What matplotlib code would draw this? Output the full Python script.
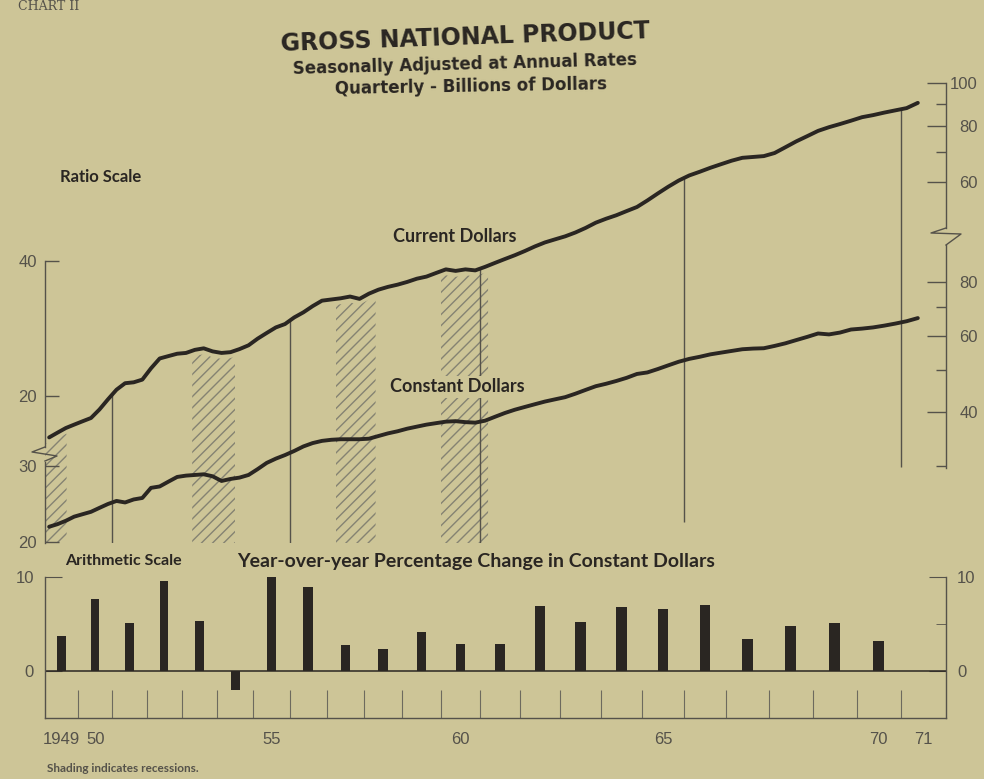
import numpy as np
import matplotlib.pyplot as plt
from matplotlib.lines import Line2D

W, H = 984, 779
BG = "#cdc597"
INK = "#2a2622"
GREY = "#55524a"
HATCH = "#858372"

plt.rcParams["hatch.linewidth"] = 1.0
DIGITS = ["Liberation Sans", "DejaVu Sans"]
LABEL = ["Lato", "DejaVu Sans"]

# GNP, billions of dollars, quarterly 1949 Q1 - 1971 Q2 (ratio scale)
current = [16.2, 16.6, 17.0, 17.3, 17.6, 17.9, 18.7, 19.7, 20.7, 21.4, 21.5, 21.8,
           23.1, 24.3, 24.6, 24.9, 25.0, 25.4, 25.6, 25.2, 25.0, 25.1, 25.5, 26.0,
           26.9, 27.7, 28.5, 29.0, 30.0, 30.8, 31.8, 32.7, 32.9, 33.1, 33.4, 33.0,
           33.9, 34.6, 35.1, 35.5, 36.0, 36.6, 37.0, 37.7, 38.4, 38.1, 38.4, 38.2,
           38.9, 39.7, 40.5, 41.3, 42.2, 43.2, 44.1, 44.8, 45.5, 46.4, 47.5, 48.8,
           49.8, 50.7, 51.8, 52.9, 54.7, 56.7, 58.7, 60.6, 62.2, 63.4, 64.7, 65.9,
           67.1, 68.1, 68.4, 68.7, 69.8, 71.9, 74.1, 76.1, 78.2, 79.7, 81.0, 82.4,
           83.9, 84.8, 85.9, 86.9, 87.9, 90.3]
constant = [21.7, 22.0, 22.4, 22.9, 23.2, 23.5, 24.0, 24.5, 24.9, 24.7, 25.1, 25.3,
            26.7, 26.9, 27.6, 28.3, 28.5, 28.6, 28.7, 28.4, 27.7, 28.0, 28.2, 28.6,
            29.5, 30.5, 31.2, 31.8, 32.5, 33.3, 33.9, 34.3, 34.5, 34.6, 34.6, 34.6,
            34.7, 35.2, 35.7, 36.1, 36.6, 37.0, 37.4, 37.7, 38.0, 38.1, 37.9, 37.8,
            38.2, 39.0, 39.8, 40.5, 41.1, 41.7, 42.3, 42.8, 43.3, 44.1, 45.0, 45.9,
            46.5, 47.2, 48.0, 49.0, 49.4, 50.3, 51.3, 52.3, 53.1, 53.7, 54.4, 54.9,
            55.4, 55.9, 56.1, 56.2, 56.9, 57.7, 58.7, 59.7, 60.8, 60.5, 61.1, 62.1,
            62.4, 62.8, 63.4, 64.1, 64.9, 66.0]
quarters = 1949 + 0.125 + 0.25 * np.arange(len(current))

# year-over-year % change in constant dollars
pct_years = list(range(1949, 1971))
pct_change = [3.7, 7.7, 5.1, 9.6, 5.3, -2.0, 10.0, 8.9, 2.8, 2.3, 4.2,
              2.9, 2.9, 6.9, 5.2, 6.8, 6.6, 7.0, 3.4, 4.8, 5.1, 3.2]

recessions = [(1949.0, 1949.65), (1953.3, 1954.5), (1957.25, 1958.3), (1960.0, 1961.2)]
marker_years = [1951, 1956, 1961, 1966, 1971]
label_years = [1949, 1950, 1955, 1960, 1965, 1970, 1971]
year_labels = ["1949", "50", "55", "60", "65", "70", "71"]

# the scanned page is stretched a little toward the right -> mild quadratic year scale
A, B = 33.09, 0.2645


def fwd(x):
    t = np.asarray(x, dtype=float) - 1949
    return A * t + B * t ** 2


def inv(u):
    u = np.asarray(u, dtype=float)
    return 1949 + (-A + np.sqrt(np.maximum(A ** 2 + 4 * B * u, 0))) / (2 * B)


def fx(x):
    return x / W


def fy(y):
    return 1 - y / H


fig = plt.figure(figsize=(W / 100, H / 100), dpi=100, facecolor=BG)

# ---- top panel: four overlaid log axes (current left/right, constant left/right) ----
C_LIM = (9.42, 100)
K_LIM = (19.9, 231.1)
ax_c = fig.add_axes([fx(45), fy(543), 901 / W, 460 / H])
ax_c.set_facecolor("none")
ax_c.set_xscale("function", functions=(fwd, inv))
ax_c.set_xlim(1949, 1972)
ax_c.tick_params(axis="x", which="both", bottom=False, labelbottom=False)
ax_cr = ax_c.twinx()
ax_k = ax_c.twinx()
ax_kr = ax_c.twinx()

for a, lim in ((ax_c, C_LIM), (ax_cr, C_LIM), (ax_k, K_LIM), (ax_kr, K_LIM)):
    a.set_yscale("log")
    a.set_ylim(*lim)
    for s in a.spines.values():
        s.set_visible(False)
    a.tick_params(axis="y", which="both", direction="in", color=GREY, width=1,
                  labelcolor=GREY, labelsize=12)
    for s in ("left", "right"):
        a.spines[s].set_color(GREY)
        a.spines[s].set_linewidth(1)

ax_k.yaxis.tick_left()

ax_c.spines["left"].set_visible(True)
ax_c.spines["left"].set_bounds(15.4, 40)
ax_c.set_yticks([20, 40], ["20", "40"])
ax_c.set_yticks([], minor=True)
ax_c.tick_params(axis="y", length=10, pad=6, left=True, right=False,
                 labelleft=True, labelright=False)

ax_k.spines["left"].set_visible(True)
ax_k.spines["left"].set_bounds(K_LIM[0], 30.6)
ax_k.set_yticks([20, 30], ["20", "30"])
ax_k.set_yticks([], minor=True)
ax_k.tick_params(axis="y", length=10, pad=6, left=True, right=False,
                 labelleft=True, labelright=False)

ax_cr.spines["right"].set_visible(True)
ax_cr.spines["right"].set_bounds(47.5, 100)
ax_cr.set_yticks([60, 80, 100], ["60", "80", "100"])
ax_cr.set_yticks([70, 90], minor=True)

ax_kr.spines["right"].set_visible(True)
ax_kr.spines["right"].set_bounds(29.7, 97.5)
ax_kr.set_yticks([40, 60, 80], ["40", "60", "80"])
ax_kr.set_yticks([30, 50, 70], minor=True)

for a in (ax_cr, ax_kr):
    a.tick_params(axis="y", which="major", length=14, pad=23)
    a.tick_params(axis="y", which="minor", length=7, labelright=False)
    for lab in a.get_yticklabels():
        lab.set_horizontalalignment("right")

for a in (ax_c, ax_cr, ax_k, ax_kr):
    for lab in a.get_yticklabels():
        lab.set_family(DIGITS)

# recession shading, hatched up to the current-dollar line
for x0, x1 in recessions:
    xs = np.linspace(x0, x1, 30)
    top = np.interp(xs, quarters, current) * 0.97
    ax_c.fill_between(xs, C_LIM[0], top, facecolor="none", edgecolor=HATCH,
                      hatch="///", linewidth=0)

# reference verticals every five years
tops = np.interp(marker_years, quarters, current)
ax_c.vlines(marker_years, [C_LIM[0], C_LIM[0], C_LIM[0], 10.5, 13.9], tops,
            color=GREY, lw=1.0)

ax_c.plot(quarters, current, color=INK, lw=2.8, solid_capstyle="round")
ax_k.plot(quarters, constant, color=INK, lw=2.8, solid_capstyle="round")

# scale breaks
for pts in ([(45, 447), (32, 452), (57, 456), (45, 461)],
            [(946, 228), (931, 233), (961, 234), (946, 245)]):
    xs, ys = zip(*pts)
    fig.add_artist(Line2D([fx(v) for v in xs], [fy(v) for v in ys],
                          transform=fig.transFigure, color=GREY, lw=1))

# ---- bottom panel: percentage change bars ----
ax_b = fig.add_axes([fx(45), fy(718), 901 / W, 141 / H])
ax_b.set_facecolor("none")
ax_b.set_xscale("function", functions=(fwd, inv))
ax_b.set_xlim(1949, 1972)
ax_b.set_ylim(-5, 10)
ax_b.bar(np.array(pct_years) + 0.5, pct_change, width=0.25, color=INK)
ax_b.axhline(0, color=INK, lw=1.1)
ax_b.spines["top"].set_visible(False)
for s in ("left", "right", "bottom"):
    ax_b.spines[s].set_color(GREY)
    ax_b.spines[s].set_linewidth(1)

ax_b.set_yticks([0, 10], ["0", "10"])
ax_b.set_yticks([5], minor=True)
ax_b.tick_params(axis="y", which="major", direction="in", length=12, color=GREY,
                 left=True, right=True, labelleft=True, labelright=True,
                 labelcolor=GREY, labelsize=12, pad=8)
ax_b.tick_params(axis="y", which="minor", direction="in", length=7, color=GREY,
                 left=False, right=True)

ax_b.set_xticks(range(1950, 1972))
ax_b.set_xticks(np.array(label_years) + 0.5, year_labels, minor=True)
ax_b.tick_params(axis="x", which="major", direction="in", length=20, color="#6d6a5e",
                 labelbottom=False)
ax_b.tick_params(axis="x", which="minor", length=0, pad=10, labelcolor=GREY,
                 labelsize=12)
for lab in ax_b.get_xticklabels(minor=True) + ax_b.get_yticklabels():
    lab.set_family(DIGITS)

# ---- text ----
fig.text(fx(18), fy(7), "CHART II", va="center", fontsize=9, color=GREY,
         family="DejaVu Serif")
fig.text(fx(465), fy(38), "GROSS NATIONAL PRODUCT", ha="center", va="center",
         fontsize=17, fontweight="bold", color=INK,
         rotation=2, rotation_mode="anchor")
fig.text(fx(465), fy(64), "Seasonally Adjusted at Annual Rates", ha="center",
         va="center", fontsize=12, fontweight="bold", color=INK,
         rotation=1.5, rotation_mode="anchor")
fig.text(fx(471), fy(87), "Quarterly - Billions of Dollars", ha="center",
         va="center", fontsize=12, fontweight="bold", color=INK,
         rotation=1, rotation_mode="anchor")

fig.text(fx(60), fy(177), "Ratio Scale", va="center", fontsize=12,
         fontweight="bold", color=INK, family=LABEL)
fig.text(fx(393), fy(236), "Current Dollars", va="center", fontsize=13,
         fontweight="bold", color=INK, family=LABEL)
fig.text(fx(390), fy(387), "Constant Dollars", va="center", fontsize=13,
         fontweight="bold", color=INK, family=LABEL,
         bbox=dict(facecolor=BG, edgecolor="none", pad=2))
fig.text(fx(65), fy(561), "Arithmetic Scale", va="center", fontsize=11.5,
         fontweight="bold", color=INK, family=LABEL)
fig.text(fx(237), fy(562), "Year-over-year Percentage Change in Constant Dollars",
         va="center", fontsize=14, fontweight="bold", color=INK, family=LABEL)
fig.text(fx(47), fy(768), "Shading indicates recessions.", va="center",
         fontsize=8.5, fontweight="bold", color=GREY, family=LABEL)

fig.savefig("out.png", dpi=100, facecolor=BG)
